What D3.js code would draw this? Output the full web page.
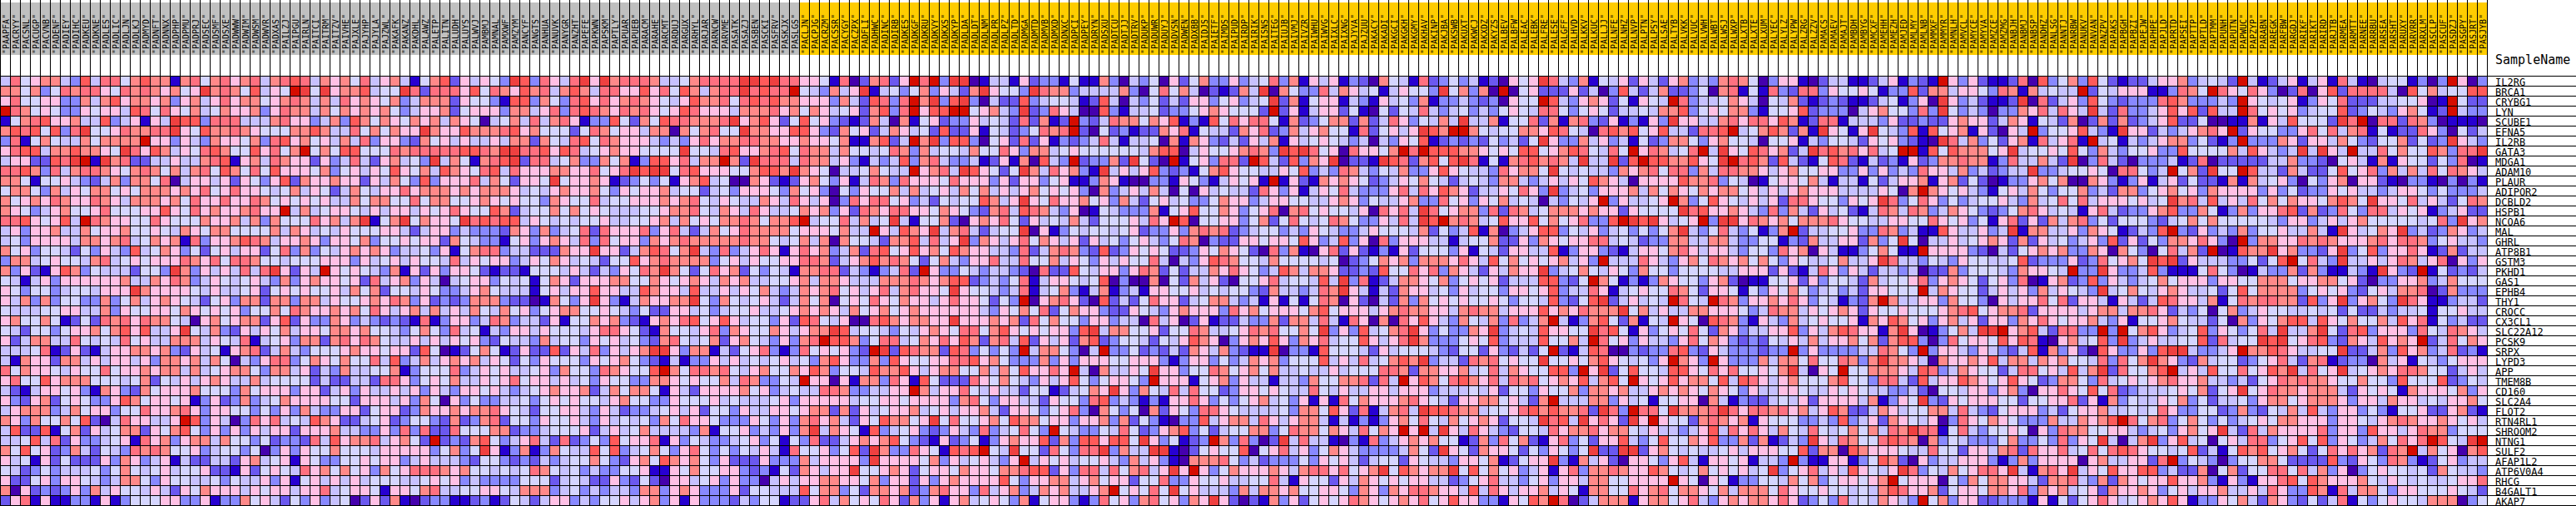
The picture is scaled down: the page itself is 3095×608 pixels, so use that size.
<!DOCTYPE html>
<html><head><meta charset="utf-8">
<script src="https://cdn.jsdelivr.net/npm/d3@7"></script>
<style>html,body{margin:0;padding:0;background:#fff;overflow:hidden}svg{display:block}</style>
</head><body><svg id="chart" width="3095" height="608"></svg>
<script>
const genes = ["IL2RG","BRCA1","CRYBG1","LYN","SCUBE1","EFNA5","IL2RB","GATA3","MDGA1","ADAM10","PLAUR","ADIPOR2","DCBLD2","HSPB1","NCOA6","MAL","GHRL","ATP8B1","GSTM3","PKHD1","GAS1","EPHB4","THY1","CROCC","CX3CL1","SLC22A12","PCSK9","SRPX","LYPD3","APP","TMEM8B","CD160","SLC2A4","FLOT2","RTN4RL1","SHROOM2","NTNG1","SULF2","AFAP1L2","ATP6V0A4","RHCG","B4GALT1","AKAP7"];
const samplesGray = ["PAAPFA","PACRYY","PACSNL","PACUGP","PACVNB","PADENF","PADIEY","PADIHC","PADKEU","PADKNE","PADLES","PADLIC","PADLJN","PADLKJ","PADMYD","PADNFT","PADNNX","PADPHP","PADPMU","PADPRJ","PADSEC","PADSMF","PADSXE","PADWWW","PADWIM","PADWSM","PADWVR","PADXAS","PAILZJ","PAIPGU","PAIRLN","PAITCI","PAITRM","PAITZV","PAIVHE","PAJXLE","PAJYHP","PAJYLA","PAJZWL","PAKAFK","PAKANZ","PAKDHL","PALAWZ","PALETP","PALITN","PALUDH","PALUYS","PALWVJ","PAMBMJ","PAMNAL","PAMXWF","PAMZYM","PANCYF","PANGTS","PANHUA","PANUVK","PANYGR","PANZHT","PAPEFE","PAPKWN","PAPSKM","PAPTLY","PAPUAR","PAPUEB","PARACM","PARAHE","PARCMT","PARDUJ","PARGUX","PARHYL","PARJAR","PARNCW","PARVME","PASATK","PASAZJ","PASBEN","PASCKI","PASFRV","PASKJX","PASLGS"];
const samplesGold = ["PACLJN","PACPJG","PACRZM","PACSSR","PACYGY","PACZPX","PADFLI","PADHWC","PADINC","PADIRB","PADKES","PADKGF","PADKRU","PADKVY","PADKXS","PADKYP","PADLDA","PADLDT","PADLNM","PADLPR","PADLPZ","PADLTD","PADMGA","PADMTD","PADMVB","PADMXD","PADNXC","PADPCI","PADPEY","PADRYN","PADSXU","PADTCU","PADTJJ","PADTRV","PADUKP","PADUWR","PADUYJ","PADVSN","PADWEN","PADXBB","PAIDJS","PAIETF","PAIMDS","PAIPUD","PAIRDP","PAIRIK","PAISNS","PAITEG","PAIUJB","PAIVMJ","PAIVZR","PAIWHU","PAIWVG","PAIXLC","PAIXNG","PAJYVA","PAJZUU","PAKACY","PAKADI","PAKGCI","PAKGKH","PAKGMY","PAKHAV","PAKINP","PAKJBA","PAKSWB","PAKUXT","PAKWCJ","PAKXDZ","PAKYZS","PALBEV","PALBFW","PALEAC","PALEBK","PALFRE","PALESE","PALGFF","PALHVD","PALKKV","PALKUC","PALLJJ","PALNFE","PALNHZ","PALNVP","PALPTN","PALPSY","PALSAE","PALTYB","PALVKK","PALVUC","PALVWH","PALWBT","PALWSJ","PALWXP","PALXTB","PALXTE","PALXUM","PALYEC","PALYLZ","PALYPW","PALZRG","PALZZV","PAMACS","PAMAEV","PAMAJT","PAMBDH","PAMBYG","PAMCXF","PAMEHH","PAMEZH","PAMJED","PAMLMY","PAMLNB","PAMMXF","PAMMYR","PAMNLH","PAMVCL","PAMYCE","PAMYVA","PAMZCE","PAMZMG","PANBJH","PANBMJ","PANBSP","PANDHZ","PANLSG","PANNTJ","PANRBW","PANUKV","PANVAN","PANZPV","PAPAKS","PAPBGH","PAPBZI","PAPEJW","PAPHPE","PAPJLD","PAPRTD","PAPSEI","PAPTTP","PAPTLD","PAPTMM","PAPUNH","PAPUTN","PAPWUC","PAPZYP","PARABN","PAREGK","PARFBW","PARGDJ","PARIKF","PARIKT","PARIRD","PARJTB","PARMEA","PARMTT","PARNEE","PARRBU","PARSEA","PARSHT","PARUXY","PARVRR","PARXLM","PASCLP","PASCUF","PASDZJ","PASGPY","PASJRT","PASJYB"];
// one character per cell, level 0 (lowest) to B (highest); each block holds 43 rows for consecutive columns
const levelColors = ["#4500AD","#2700D1","#6B58EF","#8888FF","#C7C1FF","#D5D5FF","#FFC0E5","#FF8989","#FF7080","#FF5A5A","#EF4040","#D60C00"];
const blockA = [
"485677 439488 579771 785786 784789 847675",
"775735 878865 878767 56A787 59465B A5A677",
"685566 337479 677673 674686 775678 747486",
"B87565 336566 498586 574576 673687 747576",
"157896 674493 46164A 993888 444786 634739",
"798959 38A556 87788A 659778 765557 797448",
"381575 447577 77B663 643766 573896 756474",
"689947 797765 A86974 658975 596857 B57599",
"466229 8AB1A7 822446 447891 674876 626348",
"889738 478876 578757 478597 585966 657356",
"775155 643247 377580 466462 653692 766766",
"577537 465775 657776 768568 665457 465247",
"756768 766876 477767 586686 687565 656447",
"765346 755685 556696 586766 7866B4 745665",
"889656 94B876 655865 557667 473755 586747",
"463667 447566 755654 765775 555747 645465",
"453666 647767 845767 183667 987466 763665",
"756355 425364 394576 352564 662583 735467",
"377456 554784 565666 876858 875545 556663",
"736216 973544 42553A 736464 848A62 64B656",
"541463 666666 744768 734654 564373 676656",
"653553 455466 6A7666 654644 562565 655647",
"647373 553373 574676 542563 772773 774655",
"544455 664473 655665 765656 355758 766767",
"675575 125287 868775 406756 772692 633763",
"542553 566757 969446 A54732 646574 665776",
"624774 485454 856447 774654 814563 772786",
"444581 262146 677673 264516 782474 355567",
"417662 774646 646377 674750 436883 576575",
"857665 465585 667677 474567 753774 624374",
"685596 777555 457254 646764 474555 524224",
"421466 563176 327566 675553 756663 662463",
"632672 565336 975665 613623 734576 666552",
"467773 475663 558667 863665 535363 743366",
"763755 759204 866446 B93640 386845 497622",
"492291 572645 772657 953636 364662 666744",
"445948 263345 618673 677475 535233 284967",
"759562 374254 387875 563455 350363 655755",
"645162 522263 763461 422442 674561 653355",
"542353 444535 754564 556221 625654 867575",
"622563 665434 775365 544535 446361 564646",
"706232 363746 554642 657666 465664 668456",
"268161 133161 355566 336133 756425 363450"
];
const blockB = [
"846741 579264 653A93 8648A6 A78887 445788",
"9455A8 288869 587697 847974 886696 859747",
"765734 777265 531993 753896 867876 546977",
"767534 667256 663774 683898 768786 569866",
"757657 674765 045748 478613 395275 988777",
"575766 A76697 778967 555258 756647 707578",
"836632 756464 464772 754895 876664 343686",
"555878 888899 87AA88 969845 676655 55A554",
"426745 3A4751 789A28 845733 757139 968477",
"465965 749765 894866 677668 568A9A A58966",
"264753 936668 475266 5A5667 612353 516794",
"546686 777676 777645 467667 536566 745524",
"577558 577556 765655 376558 455666 767854",
"464664 656865 597245 575756 544455 677854",
"A157A5 7665A8 989946 545455 644556 747565",
"556642 466343 332763 734582 866683 684247",
"735565 662754 331563 676483 856637 678777",
"676344 536157 883442 22766A 662479 857A43",
"645646 554846 566346 576454 255967 877773",
"543716 263665 212215 554642 436587 A75258",
"284673 640456 635451 576266 677557 656764",
"572554 653346 754441 564669 664497 664944",
"676873 623237 773220 17536A 631476 677A53",
"586467 474647 547563 567755 654352 266453",
"432321 813663 487344 261557 673216 768956",
"755435 753845 143664 655546 886521 755468",
"875446 464656 325443 745536 564532 785457",
"665662 950125 751262 292648 36467A A63771",
"584934 746767 465253 655536 567532 141336",
"455713 555834 656445 637553 876559 B75887",
"428863 565744 656856 646453 655337 765655",
"644646 364366 564345 676672 475775 164266",
"666463 750635 334453 565655 467553 365556",
"256623 766767 786542 556643 642334 564625",
"456235 532723 782553 655643 645453 758665",
"336383 822855 577233 455562 464574 444371",
"784675 2B2327 953468 428235 395668 163543",
"546666 635735 A61371 375449 593457 536853",
"656634 644432 553232 434557 532675 976753",
"637568 887675 545458 754534 335561 165755",
"455544 565634 333355 524542 263252 066456",
"651665 784455 665477 734534 344377 367633",
"262710 233112 312542 466343 556467 361633"
];
const blockC = [
"88AA9A 886651 802782 6B8B3A A01441 623315",
"88A898 8B5437 46A145 357364 27A655 3A8773",
"858989 776663 742983 8B7A39 A30422 934554",
"647778 675764 562793 8B699B B56743 A23864",
"8A6796 259563 212740 715623 364542 82712B",
"55A776 699632 756247 645292 261542 35878B",
"778877 667665 711792 4B7A39 930562 826132",
"896678 958774 755458 737455 475586 377456",
"B72A88 848774 631434 937843 341261 70943B",
"655799 7A7650 445754 4B6784 A96525 A74867",
"500762 126753 614873 866658 666362 663561",
"536665 375630 536557 474564 757464 675656",
"654476 486460 386885 634254 559746 A65866",
"764864 457673 628768 866576 532784 987436",
"778757 79B455 84745A 415572 067685 264547",
"568777 756665 744B64 976A47 842455 A06135",
"778775 457470 755427 794846 A37646 857646",
"834686 168673 472895 696759 766443 824787",
"564655 668872 467978 752574 366844 855746",
"672535 417788 243134 82B633 543443 208229",
"767445 567477 644477 787679 923435 814665",
"646574 347678 564684 78665A 655434 814573",
"754564 247570 565865 766468 665253 B06786",
"455644 567676 475675 676666 664365 758257",
"964553 629854 600897 67766A 666767 285755",
"376557 64677A 945543 546765 885796 565663",
"267543 6378B9 973588 457686 972784 926462",
"425683 138565 632BA2 987729 835353 B47753",
"464545 645379 633739 655668 896753 337363",
"854675 576973 554977 964677 557475 96686B",
"748733 54B660 617738 619522 286575 436469",
"667563 454488 733446 6B7466 854644 255124",
"454445 636666 645566 566663 785366 442655",
"536446 656772 726456 674564 667426 653568",
"333653 637867 426597 756A58 556759 775663",
"556343 637A47 651934 563236 438345 853B54",
"345635 153822 467679 532162 351367 669273",
"535464 185563 592A73 386519 89B54A 552853",
"622263 337466 663A66 665736 456436 B46564",
"663231 527646 6A5567 625665 766577 899263",
"363304 646677 665736 626367 666695 366774",
"362554 449577 352776 723786 638467 347674",
"324355 122684 756586 273616 745653 715663"
];
const blockD = [
"117304 350625 733634 583716 461320 754182",
"444473 058574 021274 A07533 847645 146553",
"129404 352426 635634 5A2715 661431 645371",
"009314 452335 676555 2B2614 662510 525484",
"324877 576913 195868 851723 577272 486354",
"205231 227681 544276 823746 755182 5646A9",
"348414 450717 632426 471645 654340 436591",
"555555 479904 655678 73A9A8 560866 57B8B9",
"23372A 520B15 63882B 942937 6A0221 A98279",
"31A464 693231 579655 446593 438743 547336",
"137610 033165 314656 1B1621 767652 346575",
"307346 474050 645442 863614 658433 368486",
"756374 256453 357663 466554 467635 446733",
"015433 371569 557635 680785 655460 8684A8",
"425556 486B90 556635 725854 587533 6484A9",
"455456 233637 878234 553436 543346 555472",
"264535 643587 032266 566596 349360 836664",
"329236 565223 657652 083710 682621 316255",
"536465 584043 698755 475555 450235 767377",
"546636 872524 476865 349747 762232 955868",
"459030 070527 462055 684554 94A381 247765",
"147134 166556 454553 274434 87A641 427664",
"209242 586624 577434 161515 870620 427375",
"663226 543676 663867 566657 956664 678776",
"366344 084602 612243 372774 841860 708696",
"9A4775 562558 744568 785575 A36394 578A63",
"792355 425469 760367 696376 845596 468A73",
"04B335 232427 647321 1A0331 955542 645554",
"666556 663136 635347 673555 946484 5797A3",
"407446 5A6635 587567 574454 464555 887277",
"535665 3B6661 567364 414437 557782 84B697",
"576A63 754848 552366 565448 546446 646663",
"389343 131668 635356 745361 618576 667865",
"307535 072653 886544 445377 596281 4784A9",
"667372 531033 946774 864677 414131 367585",
"335485 236793 524557 735877 576485 76B6B4",
"996995 A63512 3B7383 02A484 410318 346767",
"88A374 4AA102 565590 568463 576433 334752",
"556437 463107 778534 233353 656424 552654",
"884857 846A6B 635766 676478 868567 A59767",
"675662 558336 556445 584165 526476 565664",
"467B56 585A56 444374 776755 665376 376887",
"138563 785637 6A6202 173625 656876 567685"
];
const blockE = [
"353412 0656A8 437154 626426 734378 750366",
"A57370 B05622 262403 942472 235078 151832",
"334323 0655B9 436762 51654B 834457 640547",
"345343 565488 535652 445477 935657 731556",
"74A447 155827 178326 13163A 664478 688697",
"7BB754 557769 854089 795694 42889B 457972",
"232325 3425A6 337463 415237 753675 540556",
"997765 659956 798548 5B6874 58B4A6 598672",
"59A815 178978 74A44A 29B997 7965AB 897294",
"965443 86775A 545443 767858 837488 776467",
"424543 774346 465976 406666 977835 401566",
"976244 65863A 345366 674757 657677 564646",
"856365 745404 3546B3 64456B 735965 464628",
"567738 287457 776766 265555 A89667 643837",
"B78745 966957 568339 BA9A64 56B3AA 687675",
"534917 034699 354634 535357 A43584 35137B",
"414557 226376 566884 542337 744774 335513",
"536154 266449 136632 146657 864664 355386",
"768649 575656 7463B4 448643 675876 757536",
"376426 4766A3 457546 537553 555544 666262",
"735656 244499 325B75 131376 553672 011556",
"536455 366569 344861 456558 752665 153657",
"656556 535549 3259A2 46454B 854B87 366768",
"647877 466696 768777 A57464 477666 534877",
"437547 38347B 413795 27154B 650987 316437",
"53376A 345496 655A89 516356 585276 344669",
"335659 344495 574B85 636443 685763 232546",
"325526 32425B 214980 032338 932643 33233B",
"442878 5655A5 565796 54536B 763B63 337477",
"667458 476559 93B6A2 595549 965868 55657A",
"589768 487856 769479 5B6569 677594 986467",
"444546 255365 573776 744676 765765 364466",
"426677 56427B 444773 645155 660741 322454",
"987745 568979 7782A8 3B885A 7778A8 688786",
"475676 2554A8 94A686 2A6B65 527876 716555",
"A64864 325548 677867 754644 346948 686475",
"551273 857216 835266 943595 576933 727124",
"A65276 652536 535A22 AA2675 454456 466655",
"436657 12566A 317462 066536 941665 61443B",
"7A5957 563461 683778 766975 457565 645A35",
"423568 443563 664775 56666B 650651 335547",
"664948 646674 651775 586785 776574 777586",
"696633 16597B 802477 716775 684367 677686"
];
const blockF = [
"102441 124613 21B636 211280 935739 521224",
"883655 651339 277466 538717 4544B2 546661",
"212321 124513 60A634 2112A0 824639 532333",
"923330 467553 83A534 303376 84864A 428334",
"128814 443622 322676 624761 542702 727234",
"71A651 6A5439 195671 62064B 355694 31A662",
"143554 265632 10A847 352671 84681B 451434",
"4A8978 6845BB 195977 756A45 565953 743556",
"215982 142316 237787 713844 742A03 842033",
"556633 636343 866473 42344A 334556 508853",
"574144 152466 716725 201336 757007 631361",
"766644 446507 B76564 315647 535573 427735",
"865536 56A835 863534 556437 458584 666564",
"426452 148748 734765 323578 645416 842336",
"777865 544665 586563 516826 274783 525553",
"244556 338734 119644 634A17 744637 651243",
"274466 2735A5 044645 676272 645346 392625",
"706411 357511 B66663 204256 767337 607530",
"544574 46A844 354365 544592 333623 85675A",
"148636 424434 022735 554376 654B33 A63349",
"263554 274556 836765 256380 167239 364345",
"534534 266555 B47655 246463 746543 A45754",
"635413 27B744 663755 306466 858266 416424",
"465676 265565 556789 567782 666646 774778",
"456556 176975 636746 266376 865667 436155",
"364798 6617A6 013574 AAB679 428833 B3B579",
"474667 572799 303856 659698 106745 93A346",
"363333 448753 B36643 643249 173620 963363",
"585587 37A776 407667 694774 767554 83857A",
"4065B5 577764 983476 552488 564947 A28557",
"555795 538842 946697 656965 237753 845656",
"544656 544334 205546 636730 668659 582344",
"626666 471365 A32656 665525 566826 173544",
"746972 247645 577484 325666 342566 744545",
"334393 462765 460386 576533 374476 79B857",
"485457 57487A 881584 355650 638775 566434",
"3A6487 558987 073543 335733 538365 A4047A",
"927709 766654 485526 647828 668458 589865",
"311661 359720 634466 631373 666606 744662",
"684649 6546A8 354756 886A41 786A46 596699",
"573566 567B56 660537 577664 277843 727656",
"556554 547986 672566 577683 767456 276676",
"235384 547643 B57366 223331 615256 864567"
];
const blockG = [
"667345 42B412 461461 841045 51303B 603",
"13875B 865863 028069 288884 095745 599",
"897333 43B654 561365 822244 55601B 522",
"696929 44B856 563455 923543 67512B 433",
"692250 011716 495552 A8B088 287301 110",
"434678 6B2655 336858 478151 228630 524",
"677352 13B333 762664 753255 72523A 643",
"339555 574964 34A4A6 4B4485 755973 88A",
"341280 222224 473320 564171 655253 801",
"4B572A 55B944 274225 956837 474858 764",
"462522 171745 630536 706621 033103 031",
"675637 666636 352336 564434 665353 334",
"5A7849 464857 576657 975A66 584642 587",
"793375 137366 892723 853884 656134 622",
"245757 555554 366346 467555 554583 A67",
"9B3263 437355 644741 A64576 A34237 634",
"377686 30B377 668787 666786 887356 443",
"58472B 01977A 673326 A35936 686127 244",
"9A2644 433525 9B5843 A44646 874680 636",
"311158 530143 372731 1431A6 32B152 324",
"756663 665577 756677 562033 667347 555",
"676445 259577 773565 632564 778027 333",
"986647 158788 772936 A36753 A86113 442",
"624350 573465 544545 252243 445155 644",
"675442 507365 799496 575574 968153 422",
"634593 653584 A447A5 289366 638548 764",
"445592 8455A9 A56893 276496 76B248 576",
"9AA433 46B779 864455 A22473 967348 231",
"763274 552356 842781 233074 615435 666",
"9B4649 558569 7A4856 A45676 887552 464",
"786674 434256 878776 557553 955592 354",
"456572 56A568 776777 426565 176665 736",
"657352 445367 756777 636647 664546 675",
"863355 237325 474943 663531 556226 721",
"835753 534565 776663 665467 876676 564",
"536756 A42847 666683 663966 468773 555",
"369450 564883 569593 653475 868B95 4AB",
"545924 159795 675258 686728 7B4756 079",
"8B3543 035577 522229 326538 731256 344",
"342270 572558 858473 603565 545275 443",
"696673 163166 895976 667546 545445 668",
"356466 744648 633971 847753 665556 542",
"696133 657427 632524 815356 554777 035"
];
const blocks = [blockA, blockB, blockC, blockD, blockE, blockF, blockG];
const samples = samplesGray.concat(samplesGold);

const rowCodes = genes.map((g, r) => blocks.map(b => b[r].replace(/\s/g, "")).join(""));
const cells = [];
genes.forEach((g, r) => samples.forEach((s, c) => {
  cells.push({gene: g, sample: s, level: parseInt(rowCodes[r][c], 12)});
}));

const x = d3.scaleBand().domain(samples).range([0, 2988]);
const y = d3.scaleBand().domain(genes).range([91, 607]);
const color = d3.scaleOrdinal().domain(d3.range(12)).range(levelColors);
const svg = d3.select("#chart").attr("shape-rendering", "crispEdges");

svg.append("g").selectAll("rect").data(samples).join("rect")
  .attr("x", d => x(d)).attr("y", 3).attr("width", x.bandwidth()).attr("height", 63)
  .attr("fill", (d, i) => i < samplesGray.length ? "#C0C0C0" : "#FFCC00");

svg.append("g").selectAll("rect").data(cells).join("rect")
  .attr("x", d => x(d.sample)).attr("y", d => y(d.gene))
  .attr("width", x.bandwidth()).attr("height", y.bandwidth())
  .attr("fill", d => color(d.level));

const grid = svg.append("g").attr("fill", "#000");
grid.selectAll(".v").data(d3.range(samples.length + 1)).join("rect").attr("class", "v")
  .attr("x", i => i * x.step()).attr("y", 0).attr("width", 1).attr("height", 608);
grid.selectAll(".h").data(d3.range(genes.length + 1)).join("rect").attr("class", "h")
  .attr("x", 0).attr("y", i => 91 + i * y.step()).attr("width", 3095).attr("height", 1);

const mono = "'DejaVu Sans Mono', 'Liberation Mono', monospace";
svg.append("g").attr("font-family", mono).attr("font-size", 10).attr("fill", "#000")
  .selectAll("text").data(samples).join("text")
  .attr("transform", d => `translate(${x(d) + 11},65) rotate(-90)`)
  .text(d => `"${d}"`);

svg.append("g").attr("font-family", mono).attr("font-size", 12).attr("fill", "#000")
  .selectAll("text").data(genes).join("text")
  .attr("x", 2998).attr("y", d => y(d) + 12).text(d => d);

svg.append("text").attr("x", 2998).attr("y", 77).attr("font-family", mono)
  .attr("font-size", 15).attr("fill", "#000").text("SampleName");

const wanted = [36,36,36,36,36,36,33];
const bad = [];
blocks.forEach((b, k) => { if (b.length !== 43) bad.push(`block${k} rows ${b.length}`);
  b.forEach((s, r) => { const n = s.replace(/\s/g, "").length; if (n !== wanted[k]) bad.push(`b${k}r${r}=${n}`); }); });
if (bad.length) throw new Error("lengths: " + bad.join(" "));
</script></body></html>
